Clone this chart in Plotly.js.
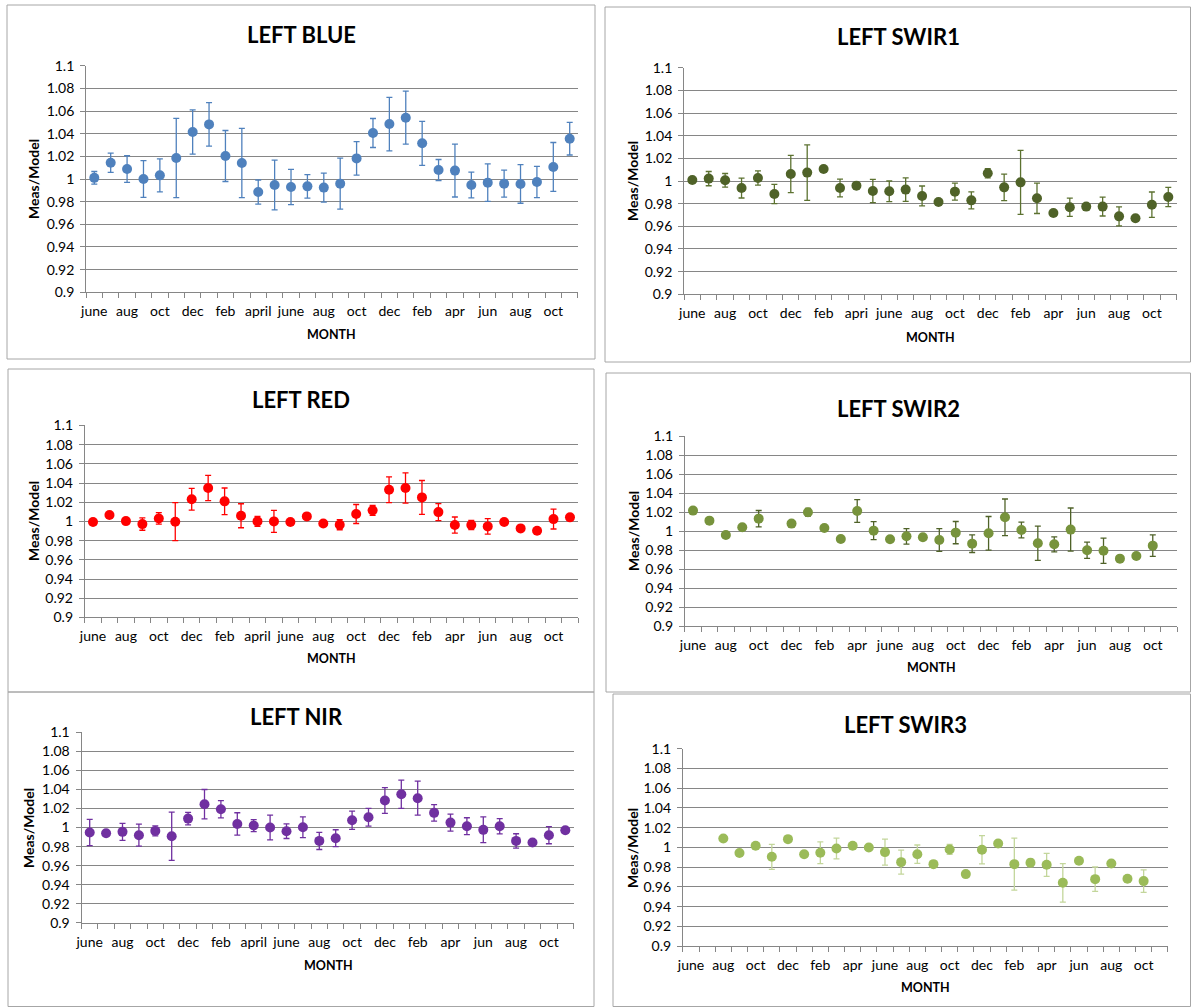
<!DOCTYPE html>
<html>
<head>
<meta charset="utf-8">
<script src="https://cdn.plot.ly/plotly-3.0.1.min.js"></script>
<style>html,body{margin:0;padding:0;background:#fff;}#chart{width:1191px;height:1007px;}</style>
</head>
<body>
<div id="chart"></div>
<script>
// ---------------- DATA ----------------
const months = ['june','jul','aug','sep','oct','nov','dec','jan','feb','mar','april','may','june','jul','aug','sep','oct','nov','dec','jan','feb','mar','apr','may','jun','jul','aug','sep','oct','nov'];

const ticksBlue  = ['june','aug','oct','dec','feb','april','june','aug','oct','dec','feb','apr','jun','aug','oct'];
const ticksSwir1 = ['june','aug','oct','dec','feb','apri','june','aug','oct','dec','feb','apr','jun','aug','oct'];
const ticksRed   = ['june','aug','oct','dec','feb','april','june','aug','oct','dec','feb','apr','jun','aug','oct'];
const ticksSwir2 = ['june','aug','oct','dec','feb','apr','june','aug','oct','dec','feb','apr','jun','aug','oct'];
const ticksNir   = ['june','aug','oct','dec','feb','april','june','aug','oct','dec','feb','apr','jun','aug','oct'];
const ticksSwir3 = ['june','aug','oct','dec','feb','apr','june','aug','oct','dec','feb','apr','jun','aug','oct'];

const yTickVals = [0.9, 0.92, 0.94, 0.96, 0.98, 1, 1.02, 1.04, 1.06, 1.08, 1.1];
const yTickText = ['0.9','0.92','0.94','0.96','0.98','1','1.02','1.04','1.06','1.08','1.1'];

const blueVal = [1.001,1.0144,1.0088,1.000,1.0032,1.0185,1.0415,1.0482,1.0203,1.0141,0.9885,0.9947,0.9929,0.9935,0.9924,0.9959,1.0182,1.0406,1.0485,1.0541,1.0315,1.0079,1.0074,0.9947,0.9968,0.9959,0.9956,0.9974,1.0106,1.0356];
const blueErr = [0.0056,0.0085,0.0117,0.0163,0.0145,0.035,0.0195,0.0192,0.0225,0.0305,0.0106,0.022,0.0156,0.0104,0.0128,0.0225,0.0148,0.0128,0.0236,0.0234,0.0194,0.0093,0.0233,0.0113,0.0166,0.0119,0.017,0.0138,0.0216,0.0144];

const swir1Val = [1.0009,1.0021,1.0006,0.9938,1.0026,0.9885,1.0062,1.0074,1.0106,0.9938,0.9959,0.9912,0.9909,0.9924,0.9868,0.9815,0.9906,0.9829,1.0068,0.9944,0.9988,0.9847,0.9718,0.9768,0.9774,0.9774,0.9688,0.9671,0.9791,0.9859];
const swir1Err = [0.002,0.0063,0.006,0.0088,0.0063,0.0085,0.0165,0.0245,0.002,0.0078,0.002,0.0103,0.0091,0.0104,0.0088,0.002,0.0075,0.0075,0.004,0.0117,0.0283,0.0134,0.002,0.008,0.002,0.0083,0.0084,0.002,0.0112,0.0085];

const redVal = [0.9993,1.0066,1.0003,0.9972,1.0031,0.9997,1.023,1.0348,1.0209,1.0059,1.0,1.0,0.9993,1.0052,0.9979,0.9965,1.0077,1.0115,1.033,1.0348,1.025,1.0097,0.9962,0.9962,0.9948,0.9993,0.9927,0.9903,1.0024,1.0042];
const redErr = [0.002,0.002,0.002,0.0064,0.006,0.0198,0.0113,0.0132,0.0139,0.0125,0.0052,0.0115,0.002,0.003,0.002,0.0052,0.0099,0.0052,0.0134,0.0158,0.0176,0.0089,0.0084,0.0048,0.008,0.002,0.003,0.003,0.0103,0.002];

const swir2Val = [1.0218,1.0112,0.9961,1.0042,1.0133,null,1.0081,1.02,1.0035,0.9919,1.0214,1.0007,0.9916,0.9947,0.9937,0.9909,0.9986,0.987,0.9979,1.0147,1.0014,0.9874,0.9863,1.0018,0.98,0.9796,0.9712,0.974,0.9849,null];
const swir2Err = [0.002,0.002,0.002,0.002,0.0086,0,0.002,0.004,0.002,0.002,0.012,0.0095,0.003,0.0082,0.002,0.012,0.0117,0.0093,0.0177,0.0193,0.0083,0.018,0.0079,0.0227,0.0086,0.0133,0.002,0.002,0.0114,0];

const nirVal = [0.9948,0.9941,0.9955,0.992,0.9965,0.9909,1.0094,1.0245,1.0192,1.0038,1.0021,1.0,0.9962,1.0003,0.986,0.9888,1.0077,1.0108,1.0283,1.035,1.0308,1.0154,1.0052,1.0014,0.9976,1.0014,0.986,0.9843,0.992,0.9972];
const nirErr = [0.0138,0.002,0.0089,0.0115,0.0052,0.0253,0.0065,0.0154,0.0091,0.0117,0.0063,0.013,0.0077,0.0108,0.009,0.0089,0.0096,0.0093,0.0135,0.0148,0.0178,0.0087,0.0089,0.0089,0.0135,0.008,0.0075,0.003,0.009,0.002];

const swir3Val = [null,null,1.0091,0.9943,1.0017,0.9905,1.0084,0.9932,0.9946,0.999,1.0017,1.0,0.9953,0.9851,0.9932,0.9831,0.998,0.973,0.9976,1.004,0.9831,0.9845,0.9824,0.9642,0.9865,0.9679,0.9838,0.9683,0.9659,null];
const swir3Err = [0,0,0.002,0.002,0.002,0.0127,0.002,0.002,0.011,0.0105,0.002,0.002,0.0132,0.0122,0.0093,0.003,0.005,0.002,0.0143,0.002,0.0263,0.004,0.0117,0.0195,0.002,0.0123,0.002,0.002,0.0113,0];

// ---------------- LAYOUT CONFIG ----------------
const W = 1191, H = 1007;
const px = v => v / W;
const py = v => 1 - v / H;
const FONT = 'Lato, "Open Sans", sans-serif';

const panels = [
  {title:'LEFT BLUE',  vals:blueVal,  errs:blueErr,  ticks:ticksBlue,  color:'#4F81BD', ecolor:'#4F81BD',
   box:[7,5,595,359],      plot:[86.1,65.7,577.9,292.3],  t:[301,33],  xt:[332,333], yt:[33,179]},
  {title:'LEFT SWIR1', vals:swir1Val, errs:swir1Err, ticks:ticksSwir1, color:'#4F6228', ecolor:'#5C7230',
   box:[605,7,1190.5,362], plot:[684.1,67.7,1176.5,294.3], t:[899,35],  xt:[930,336], yt:[633,181]},
  {title:'LEFT RED',   vals:redVal,   errs:redErr,   ticks:ticksRed,   color:'#FF0000', ecolor:'#FF0000',
   box:[8,369,594,692],    plot:[84.8,425.4,578.2,617.4], t:[301,397], xt:[331,657], yt:[33,521]},
  {title:'LEFT SWIR2', vals:swir2Val, errs:swir2Err, ticks:ticksSwir2, color:'#77933C', ecolor:'#4F6228',
   box:[606,373,1190.5,692], plot:[684.8,436.3,1177.4,626.3], t:[898,406], xt:[931,666], yt:[633,531]},
  {title:'LEFT NIR',   vals:nirVal,   errs:nirErr,   ticks:ticksNir,   color:'#7030A0', ecolor:'#7030A0',
   box:[8,692,594,1006.5], plot:[81.5,732.2,573.5,922.9], t:[296,714], xt:[328,964], yt:[28,828]},
  {title:'LEFT SWIR3', vals:swir3Val, errs:swir3Err, ticks:ticksSwir3, color:'#9BBB59', ecolor:'#C3D69B',
   box:[613,694,1190.5,1006.5], plot:[682.9,748.7,1167.9,946.2], t:[905,722], xt:[925,986], yt:[632,848]}
];

const xIdx = months.map((m, i) => i + 1);
const tickPos = xIdx.filter(i => i % 2 === 1);

const traces = [];
const layout = {
  width: W, height: H, autosize: false,
  margin: {l:0, r:0, t:0, b:0, pad:0},
  paper_bgcolor: '#ffffff', plot_bgcolor: '#ffffff',
  showlegend: false,
  font: {family: FONT, size: 14, color: '#000000'},
  shapes: [], annotations: []
};

panels.forEach((p, i) => {
  const n = i === 0 ? '' : String(i + 1);
  traces.push({
    type: 'scatter', mode: 'markers',
    x: xIdx, y: p.vals, text: months,
    xaxis: 'x' + n, yaxis: 'y' + n,
    marker: {size: 10, color: p.color},
    error_y: {type: 'data', array: p.errs, visible: true, color: p.ecolor, thickness: 1.3, width: 3},
    hoverinfo: 'skip', cliponaxis: false
  });
  layout['xaxis' + n] = {
    domain: [px(p.plot[0]), px(p.plot[2])], anchor: 'y' + n,
    range: [0.5, 30.5], fixedrange: true,
    tickmode: 'array', tickvals: tickPos, ticktext: p.ticks,
    ticks: '', showgrid: false, zeroline: false,
    showline: true, linecolor: '#868686', linewidth: 1,
    ticklabelstandoff: 6,
    tickfont: {family: FONT, size: 14, color: '#000000'},
    minor: {tickmode: 'linear', tick0: 0.5, dtick: 1, ticks: 'outside', ticklen: 5, tickwidth: 1, tickcolor: '#868686', showgrid: false}
  };
  layout['yaxis' + n] = {
    domain: [py(p.plot[3]), py(p.plot[1])], anchor: 'x' + n,
    range: [0.9, 1.1], fixedrange: true,
    tickmode: 'array', tickvals: yTickVals, ticktext: yTickText,
    ticks: 'outside', ticklen: 5, tickwidth: 1, tickcolor: '#868686',
    ticklabelstandoff: 3,
    showgrid: true, gridcolor: '#868686', gridwidth: 1, zeroline: false,
    showline: true, linecolor: '#868686', linewidth: 1,
    tickfont: {family: FONT, size: 14, color: '#000000'}
  };
  layout.shapes.push({type:'rect', xref:'paper', yref:'paper',
    x0: px(p.box[0]), x1: px(p.box[2]), y0: py(p.box[3]), y1: py(p.box[1]),
    line: {color:'#A6A6A6', width:1}, fillcolor:'rgba(0,0,0,0)', layer:'below'});
  layout.annotations.push({text:'<b>' + p.title + '</b>', xref:'paper', yref:'paper',
    x: px(p.t[0]), y: py(p.t[1] + 2), xanchor:'center', yanchor:'middle', showarrow:false,
    font:{family: FONT, size: 22, color:'#000000'}});
  layout.annotations.push({text:'<b>MONTH</b>', xref:'paper', yref:'paper',
    x: px(p.xt[0]), y: py(p.xt[1] + 1), xanchor:'center', yanchor:'middle', showarrow:false,
    font:{family: FONT, size: 12.5, color:'#000000'}});
  layout.annotations.push({text:'<b>Meas/Model</b>', xref:'paper', yref:'paper',
    x: px(p.yt[0]), y: py(p.yt[1]), xanchor:'center', yanchor:'middle', showarrow:false, textangle:-90,
    font:{family: FONT, size: 14, color:'#000000'}});
});

Plotly.newPlot('chart', traces, layout, {staticPlot: true, displayModeBar: false});
</script>
</body>
</html>
